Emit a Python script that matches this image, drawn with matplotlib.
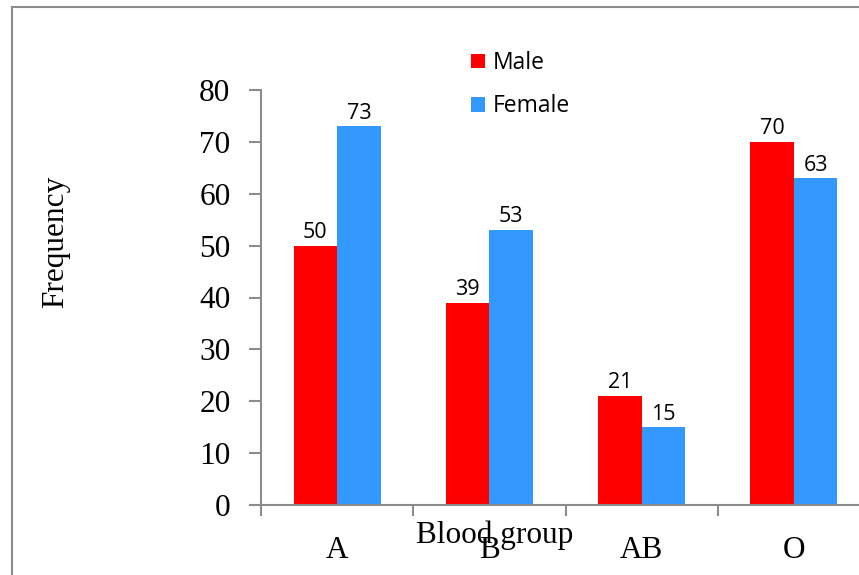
from matplotlib import pyplot as plt
from matplotlib.patches import Rectangle
import numpy as np

groups = ['A', 'B', 'AB', 'O']
male = [50, 39, 21, 70]
female = [73, 53, 15, 63]

serif = 'Liberation Serif'
sans = 'Open Sans'
fs = 22.5

fig = plt.figure(figsize=(8.59, 5.75), dpi=100)
# frame around the whole chart area, running off the right and bottom edges
fig.patches.append(Rectangle((12 / 859, -0.1), 1.2, 1 - 7 / 575 + 0.1,
                             transform=fig.transFigure, fill=False,
                             edgecolor='#8c8c8c', linewidth=1.5))

ax = fig.add_axes([261 / 859, 70 / 575, 609 / 859, 415 / 575])
x = np.arange(len(groups))
w = 0.285
b1 = ax.bar(x - w / 2, male, w, color='#ff0000', label='Male')
b2 = ax.bar(x + w / 2, female, w, color='#3399ff', label='Female')

for bars, vals in ((b1, male), (b2, female)):
    for r, v in zip(bars, vals):
        ax.text(r.get_x() + r.get_width() / 2, v + 0.5, str(v),
                ha='center', va='bottom', fontsize=15.5, family=sans)

ax.set_xlim(-0.5, 3.5)
ax.set_ylim(0, 80)
ax.set_yticks(range(0, 81, 10))
ax.set_yticklabels([str(v) for v in range(0, 81, 10)], family=serif, fontsize=fs)
ax.set_xticks(np.arange(-0.5, 4, 1))
ax.set_xticklabels([])
ax.set_xticks(x, minor=True)
ax.set_xticklabels(groups, minor=True, family=serif, fontsize=fs)
ax.tick_params(axis='x', which='minor', length=0, pad=22)
ax.tick_params(axis='x', which='major', length=8, width=1.5, color='#8c8c8c')
ax.tick_params(axis='y', length=9, width=1.5, color='#8c8c8c', pad=13)

for s in ('top', 'right'):
    ax.spines[s].set_visible(False)
for s in ('left', 'bottom'):
    ax.spines[s].set_color('#8c8c8c')
    ax.spines[s].set_linewidth(1.5)

fig.text(495 / 859, 1 - 535 / 575, 'Blood group', ha='center', va='center',
         family=serif, fontsize=fs)
fig.text(56 / 859, 1 - 242 / 575, 'Frequency', ha='center', va='center',
         rotation=90, family=serif, fontsize=fs)

ax.legend(loc='upper left', bbox_to_anchor=(471 / 859, 1 - 51 / 575),
          bbox_transform=fig.transFigure, frameon=False,
          prop={'family': sans, 'size': 16.5}, handlelength=0.6,
          handleheight=0.6, handletextpad=0.35, labelspacing=0.85,
          borderpad=0, borderaxespad=0)

fig.savefig('out.png', dpi=100)
